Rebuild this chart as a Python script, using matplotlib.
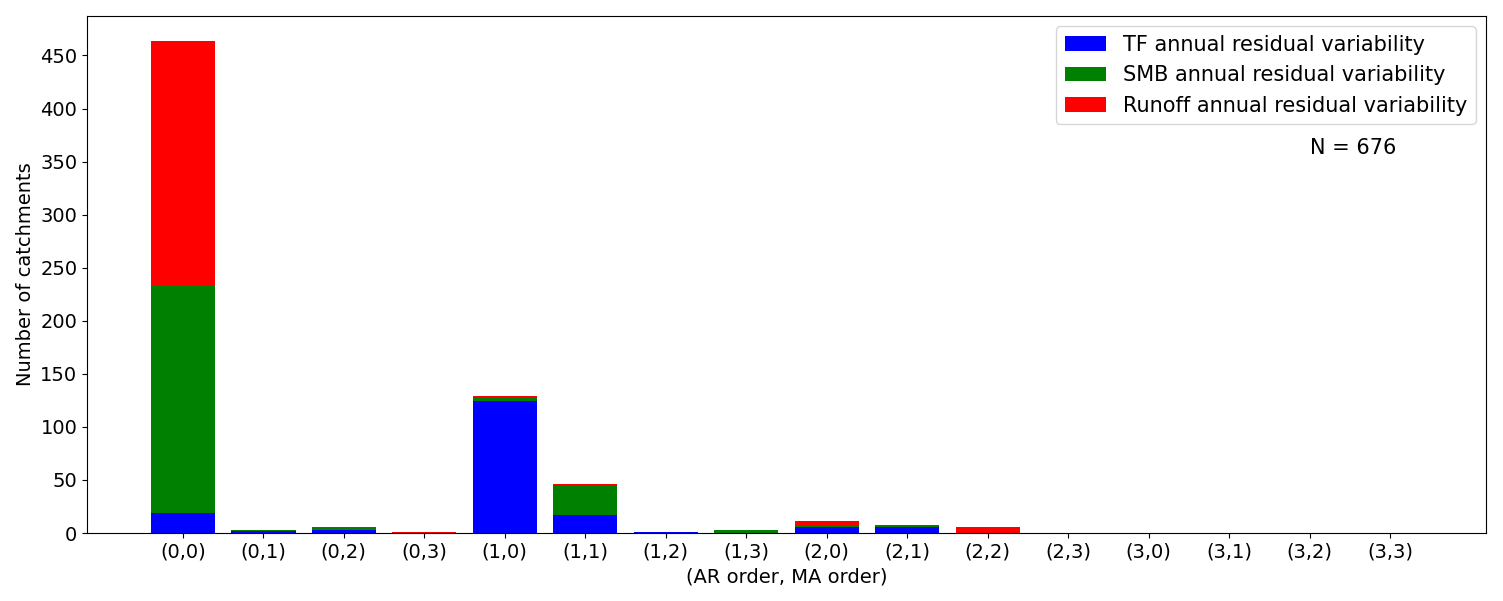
import matplotlib
matplotlib.use("Agg")
import matplotlib.pyplot as plt
from matplotlib.ticker import MultipleLocator
import numpy as np

categories = ["(0,0)", "(0,1)", "(0,2)", "(0,3)", "(1,0)", "(1,1)", "(1,2)", "(1,3)",
              "(2,0)", "(2,1)", "(2,2)", "(2,3)", "(3,0)", "(3,1)", "(3,2)", "(3,3)"]
tf_counts     = [19, 2, 3, 0, 124, 17, 1, 0, 6, 6, 0, 0, 0, 0, 0, 0]
smb_counts    = [214, 1, 2, 0, 4, 28, 0, 3, 1, 1, 0, 0, 0, 0, 0, 0]
runoff_counts = [231, 0, 1, 1, 1, 1, 0, 0, 4, 1, 6, 0, 0, 0, 0, 0]
n_label = "N = 676"

plt.rcParams['font.size'] = 14

fig, ax = plt.subplots(figsize=(15.03, 6.01), dpi=100)
x = np.arange(len(categories))
tf = np.array(tf_counts)
smb = np.array(smb_counts)
ro = np.array(runoff_counts)

ax.bar(x, tf, color='blue', label='TF annual residual variability')
ax.bar(x, smb, bottom=tf, color='green', label='SMB annual residual variability')
ax.bar(x, ro, bottom=tf + smb, color='red', label='Runoff annual residual variability')

ax.set_xticks(x)
ax.set_xticklabels(categories)
ax.yaxis.set_major_locator(MultipleLocator(50))
ax.set_xlabel("(AR order, MA order)")
ax.set_ylabel("Number of catchments")
ax.legend(loc='upper right', fontsize=15)
ax.text(0.905, 0.745, n_label, transform=ax.transAxes, ha='center', va='center', fontsize=15)

fig.subplots_adjust(left=0.0579, right=0.9887, top=0.9734, bottom=0.1131)
fig.savefig("out.png", dpi=100)
